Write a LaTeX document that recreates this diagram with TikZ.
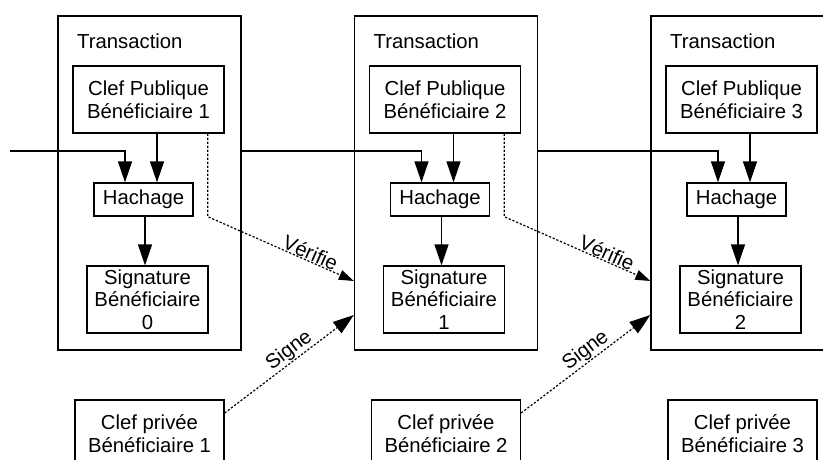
\documentclass[tikz,border=0pt]{standalone}
\usepackage{fontspec}
\setmainfont{Liberation Sans}
\usetikzlibrary{arrows.meta}
\tikzset{
  lbl/.style={font=\fontsize{20.3}{22.6}\selectfont},
  box/.style={draw, line width=1.3pt, inner sep=0pt, align=center, lbl},
  arr/.style={line width=1.3pt, -{Triangle[length=21pt,width=14pt]}},
  dotline/.style={line width=1.2pt, dash pattern=on 2.2pt off 1.8pt},
  verarr/.style={dotline, -{Triangle[length=15pt,width=10pt]}},
  sigarr/.style={dotline, -{Triangle[length=21pt,width=14pt]}},
  edgelbl/.style={lbl, sloped, above, inner sep=0.5pt}
}
\begin{document}
\begin{tikzpicture}[x=1pt,y=-1pt]
\useasboundingbox (0,0) rectangle (823,460);
\fill[white] (0,0) rectangle (823,460);
\clip (0,0) rectangle (823,460);
\coordinate (src1) at (10,151);
\foreach \i/\s in {1/0,2/1,3/2}{
  \pgfmathsetmacro\off{(\i-1)*296.5}
  \node[box, minimum width=183pt, minimum height=334pt] (T\i) at (149.5+\off,183) {};
  \node[lbl, anchor=base west, inner sep=0pt] (L\i) at (77+\off,48.5) {Transaction};
  \node[box, minimum width=151pt, minimum height=67pt] (CP\i) at (148.5+\off,99.5) {Clef Publique\\B\'en\'eficiaire \i};
  \node[box, minimum width=99pt, minimum height=33pt] (H\i) at (143.5+\off,199.5) {Hachage};
  \node[box, minimum width=121pt, minimum height=67pt] (S\i) at (147.5+\off,299.5) {Signature\\B\'en\'eficiaire\\\s};
  \node[box, minimum width=149pt, minimum height=67pt] (P\i) at (149.5+\off,433.5) {Clef priv\'ee\\B\'en\'eficiaire \i};
  \draw[arr] ([xshift=8.5pt]CP\i.south) -- ([xshift=8.5pt]CP\i.south |- H\i.north);
  \draw[arr] ([xshift=1.5pt]H\i.south) -- ([xshift=1.5pt]H\i.south |- S\i.north);
}
\draw[arr] (src1) -| ([xshift=-18.5pt]H1.north);
\foreach \i/\n in {1/2,2/3}{
  \draw[arr] ([yshift=32pt]T\i.east) -| ([xshift=-18.5pt]H\n.north);
  \draw[verarr] ([xshift=-17pt]CP\i.south east) -- ([xshift=-17pt]CP\i.south east |- H\i.south)
    -- node[edgelbl, pos=0.68] {V\'erifie} ([yshift=-98pt]T\n.west);
  \draw[sigarr] ([yshift=20.5pt]P\i.east) -- node[edgelbl, pos=0.55] {Signe} ([yshift=-132pt]T\n.west);
}
\end{tikzpicture}
\end{document}
